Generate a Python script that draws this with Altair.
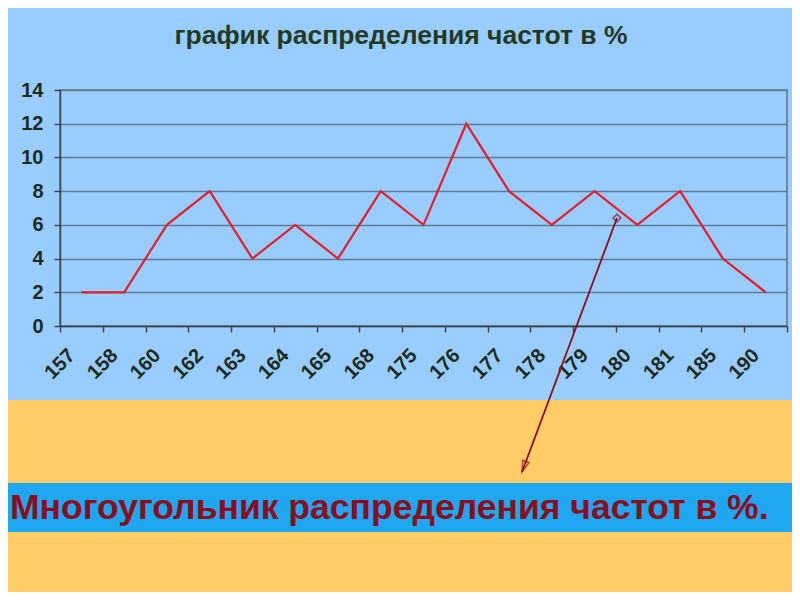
import altair as alt
import pandas as pd

categories = ["157", "158", "160", "162", "163", "164", "165", "168", "175",
              "176", "177", "178", "179", "180", "181", "185", "190"]
values = [2, 2, 6, 8, 4, 6, 4, 8, 6, 12, 8, 6, 8, 6, 8, 4, 2]
y_ticks = [0, 2, 4, 6, 8, 10, 12, 14]
title_text = "график распределения частот в %"
banner_text = "Многоугольник распределения частот в %."

df = pd.DataFrame({"x": categories, "y": values})
one = pd.DataFrame({"a": [0]})

FONT = "Liberation Sans"
BLUE = "#99CCFF"
ORANGE = "#FFCC66"
BANNER = "#1FA7F2"
DARKRED = "#8A0E1C"
AXIS = "#3A4550"
LABEL = "#1C2B1C"

line = alt.Chart(df).mark_line(color="#E41E2B", strokeWidth=2.2).encode(
    x=alt.X("x:N", sort=categories, title=None,
            scale=alt.Scale(paddingInner=0, paddingOuter=0),
            axis=alt.Axis(tickBand="extent", labelAngle=-45, labelAlign="right",
                          labelBaseline="middle", labelPadding=20, labelOffset=-10,
                          labelFont=FONT, labelFontSize=20, labelFontWeight="bold",
                          labelColor=LABEL, domainColor=AXIS, tickColor=AXIS,
                          tickSize=6, domainWidth=1.5, tickWidth=1.5, grid=False)),
    y=alt.Y("y:Q", title=None, scale=alt.Scale(domain=[0, 14], nice=False),
            axis=alt.Axis(values=y_ticks, labelFont=FONT, labelFontSize=20,
                          labelFontWeight="bold", labelColor=LABEL, labelPadding=11,
                          domainColor=AXIS, tickColor=AXIS, tickSize=6,
                          domainWidth=1.5, tickWidth=1.5, gridColor="#5E7C94",
                          gridWidth=1.3)),
)

base = alt.Chart(one)

orange_rect = base.mark_rect(color=ORANGE).encode(
    x=alt.value(-60), x2=alt.value(760), y=alt.value(310), y2=alt.value(520))
banner_rect = base.mark_rect(color=BANNER).encode(
    x=alt.value(-60), x2=alt.value(760), y=alt.value(393), y2=alt.value(442))
banner = base.mark_text(text=banner_text, font=FONT, fontSize=35.5, fontWeight="bold",
                        color=DARKRED, align="left", baseline="alphabetic").encode(
    x=alt.value(-50), y=alt.value(429))
title = base.mark_text(text=title_text, font=FONT, fontSize=26.5, fontWeight="bold",
                       color="#233A25", align="center", baseline="alphabetic").encode(
    x=alt.value(341), y=alt.value(-46))
arrow = base.mark_rule(color=DARKRED, strokeWidth=1.8).encode(
    x=alt.value(557), x2=alt.value(462), y=alt.value(128), y2=alt.value(382))
head = base.mark_point(shape="M0,0 L-0.3,-1 L0.3,-1 Z", filled=False, color=DARKRED,
                       size=500, strokeWidth=1.5, angle=20.5).encode(
    x=alt.value(462), y=alt.value(382))
tail = base.mark_point(shape="diamond", filled=False, color=DARKRED, size=60,
                       strokeWidth=1.5).encode(x=alt.value(557), y=alt.value(128))

chart = alt.layer(orange_rect, banner_rect, line, banner, title, arrow, head, tail).properties(
    width=727, height=236,
    autosize=alt.AutoSizeParams(type="none"),
    padding={"left": 52, "top": 82, "right": 5, "bottom": 266},
    background=BLUE,
).configure_view(stroke="#5E7286", strokeWidth=1.5, fill=BLUE)

chart.save("out.html", embed_options={"renderer": "svg", "actions": False})
